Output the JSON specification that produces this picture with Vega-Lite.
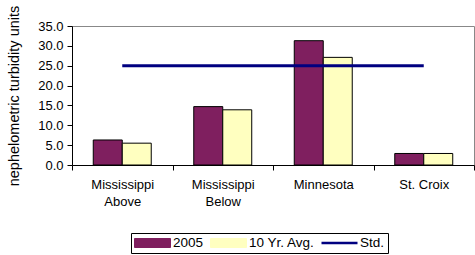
{
  "$schema": "https://vega.github.io/schema/vega-lite/v6.json",
  "width": 402,
  "height": 139,
  "autosize": {"type": "none"},
  "padding": {"left": 72, "top": 26, "right": 1, "bottom": 90},
  "background": "white",
  "config": {
    "font": "Liberation Sans",
    "view": {"stroke": "#888888", "strokeWidth": 1},
    "axis": {"labelFont": "Liberation Sans", "titleFont": "Liberation Sans", "labelColor": "#000", "titleColor": "#000", "domainColor": "#000", "tickColor": "#000", "grid": false}
  },
  "data": {
    "values": [
      {"category": "Mississippi Above", "series": "2005", "value": 6.3},
      {"category": "Mississippi Above", "series": "10 Yr. Avg.", "value": 5.5},
      {"category": "Mississippi Below", "series": "2005", "value": 14.7},
      {"category": "Mississippi Below", "series": "10 Yr. Avg.", "value": 13.9},
      {"category": "Minnesota", "series": "2005", "value": 31.3},
      {"category": "Minnesota", "series": "10 Yr. Avg.", "value": 27.1},
      {"category": "St. Croix", "series": "2005", "value": 2.9},
      {"category": "St. Croix", "series": "10 Yr. Avg.", "value": 2.9},
      {"category": "Mississippi Above", "series": "Std.", "value": 25},
      {"category": "Mississippi Below", "series": "Std.", "value": 25},
      {"category": "Minnesota", "series": "Std.", "value": 25},
      {"category": "St. Croix", "series": "Std.", "value": 25}
    ]
  },
  "encoding": {
    "x": {
      "field": "category", "type": "nominal", "sort": null,
      "scale": {"paddingInner": 0, "paddingOuter": 0},
      "axis": {
        "title": null, "labelAngle": 0, "tickBand": "extent", "tickSize": 5,
        "labelFontSize": 13, "labelPadding": 8, "labelLineHeight": 17,
        "labelExpr": "indexof(datum.label, 'Mississippi') == 0 ? split(datum.label, ' ') : datum.label",
        "encode": {"ticks": {"update": {"y": {"value": -4}}}}
      }
    },
    "y": {
      "field": "value", "type": "quantitative",
      "scale": {"domain": [0, 35], "nice": false},
      "axis": {
        "title": "nephelometric turbidity units", "values": [0, 5, 10, 15, 20, 25, 30, 35],
        "format": ".1f", "tickSize": 5, "labelFontSize": 13, "labelPadding": 4,
        "titleFontSize": 14.5, "titleFontWeight": "normal", "titlePadding": 16
      }
    },
    "color": {
      "field": "series", "type": "nominal",
      "scale": {"domain": ["2005", "10 Yr. Avg.", "Std."], "range": ["#7F1F5F", "#FFFFC0", "#000080"]},
      "legend": {
        "title": null, "orient": "none", "legendX": 59, "legendY": 207, "direction": "horizontal",
        "strokeColor": "#000", "padding": 3, "symbolSize": 1296, "clipHeight": 14,
        "labelFontSize": 13.5, "labelColor": "#000", "labelOffset": 2, "columnPadding": 6,
        "symbolStrokeColor": "#000", "symbolStrokeWidth": 1,
        "encode": {
          "symbols": {
            "update": {
              "shape": {"signal": "(datum.label === 'Std.' ? 'M-1,0H1' : 'M-1,-0.25H1V0.25H-1Z')"},
              "stroke": {"signal": "(datum.label === 'Std.' ? '#000080' : '#000000')"},
              "strokeWidth": {"signal": "(datum.label === 'Std.' ? 2.5 : 1)"},
              "fill": {"signal": "(datum.label === 'Std.' ? 'transparent' : scale('color', datum.value))"},
              "opacity": {"value": 1},
              "fillOpacity": {"value": 1}
            }
          }
        }
      }
    }
  },
  "layer": [
    {
      "transform": [{"filter": "datum.series !== 'Std.'"}],
      "mark": {"type": "bar", "stroke": "#000", "strokeWidth": 1, "opacity": 1},
      "encoding": {
        "xOffset": {"field": "series", "type": "nominal", "sort": ["2005", "10 Yr. Avg."], "scale": {"paddingInner": 0, "paddingOuter": 0.733}}
      }
    },
    {
      "transform": [{"filter": "datum.series === 'Std.'"}],
      "mark": {"type": "line", "strokeWidth": 3},
      "encoding": {}
    }
  ]
}
